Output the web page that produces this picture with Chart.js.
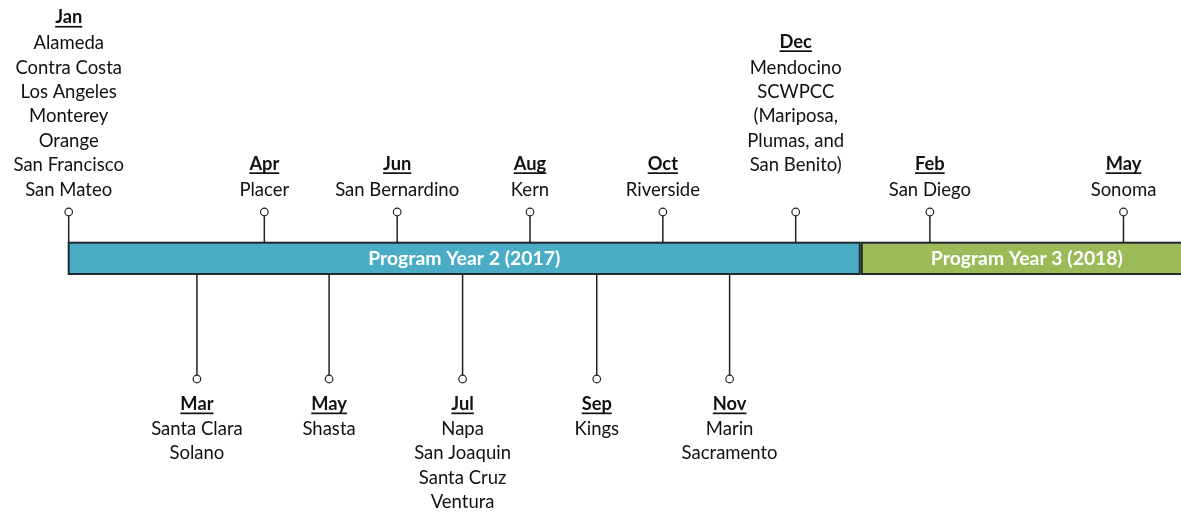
<!DOCTYPE html>
<html>
<head>
<meta charset="utf-8">
<script src="https://cdn.jsdelivr.net/npm/chart.js@4"></script>
<style>
  html, body { margin: 0; padding: 0; background: #fff; }
  #wrap { width: 1181px; height: 513px; }
</style>
</head>
<body>
<div id="wrap"><canvas id="c" width="1181" height="513"></canvas></div>
<script>
// ---- data ----
const eventMonths = ['Jan', 'Mar', 'Apr', 'May', 'Jun', 'Jul', 'Aug', 'Sep', 'Oct', 'Nov', 'Dec', 'Feb', 'May'];
// position along the timeline, in months since Jan 2017
const eventIndex = [0, 1.94, 2.96, 3.94, 4.97, 5.96, 6.98, 7.99, 8.99, 10, 11, 13.03, 15.96];
const eventSide = ['up', 'down', 'up', 'down', 'up', 'down', 'up', 'down', 'up', 'down', 'up', 'up', 'up'];
const eventCounties = [
  ['Alameda', 'Contra Costa', 'Los Angeles', 'Monterey', 'Orange', 'San Francisco', 'San Mateo'],
  ['Santa Clara', 'Solano'],
  ['Placer'],
  ['Shasta'],
  ['San Bernardino'],
  ['Napa', 'San Joaquin', 'Santa Cruz', 'Ventura'],
  ['Kern'],
  ['Kings'],
  ['Riverside'],
  ['Marin', 'Sacramento'],
  ['Mendocino', 'SCWPCC', '(Mariposa,', 'Plumas, and', 'San Benito)', ''],
  ['San Diego'],
  ['Sonoma']
];
const periodLabels = ['Program Year 2 (2017)', 'Program Year 3 (2018)'];
const periodStart = [0, 12];
const periodEnd = [11.97, 24];
const periodColors = ['#4BACC6', '#9BBB59'];

// ---- layout constants (style) ----
const BAR_TOP = 15.3, BAR_BOTTOM = -16, UP_TIP = 46, DOWN_TIP = -121;
const FONT = 'Lato, "Open Sans", sans-serif';
const LINE_H = 24.4;
const MONTH_PX = 66.09, ORIGIN_PX = 68.7;

const stemData = [];
eventIndex.forEach((m, i) => {
  if (eventSide[i] === 'up') {
    stemData.push({x: m, y: BAR_TOP}, {x: m, y: UP_TIP});
  } else {
    stemData.push({x: m, y: BAR_BOTTOM}, {x: m, y: DOWN_TIP});
  }
  stemData.push({x: m, y: null});
});

const timelinePlugin = {
  id: 'timeline',
  beforeDatasetsDraw(chart) {
    const {ctx, scales: {x, y}, chartArea} = chart;
    ctx.save();
    const top = y.getPixelForValue(BAR_TOP), bot = y.getPixelForValue(BAR_BOTTOM);
    periodLabels.forEach((lab, i) => {
      const x0 = x.getPixelForValue(periodStart[i]);
      const x1 = x.getPixelForValue(periodEnd[i]);
      ctx.fillStyle = periodColors[i];
      ctx.fillRect(x0, top, x1 - x0, bot - top);
      ctx.strokeStyle = '#1f2a2e';
      ctx.lineWidth = 2;
      ctx.strokeRect(x0, top, x1 - x0, bot - top);
      const vx0 = Math.max(x0, chartArea.left), vx1 = Math.min(x1, chartArea.right);
      ctx.fillStyle = '#ffffff';
      ctx.font = 'bold 19.4px ' + FONT;
      ctx.textAlign = 'center';
      ctx.textBaseline = 'middle';
      ctx.fillText(lab, (vx0 + vx1) / 2 + (i > 0 ? 5.5 : 0), (top + bot) / 2);
    });
    ctx.restore();
  },
  afterDatasetsDraw(chart) {
    const {ctx, scales: {x, y}} = chart;
    ctx.save();
    ctx.textAlign = 'center';
    ctx.textBaseline = 'middle';
    ctx.fillStyle = '#111111';
    eventIndex.forEach((m, i) => {
      const px = x.getPixelForValue(m);
      const lines = [eventMonths[i]].concat(eventCounties[i]);
      const up = eventSide[i] === 'up';
      let firstY;
      if (up) {
        const lastY = y.getPixelForValue(UP_TIP) - 22.3;
        firstY = lastY - (lines.length - 1) * LINE_H;
      } else {
        firstY = y.getPixelForValue(DOWN_TIP) + 25;
      }
      lines.forEach((t, k) => {
        let ly = firstY + k * LINE_H;
        if (k === 0) {
          if (up) ly -= 1.5;
          ctx.font = 'bold 18.3px ' + FONT;
          ctx.fillText(t, px, ly);
          const w = ctx.measureText(t).width;
          ctx.fillRect(px - w / 2, ly + 8.5, w, 1.7);
        } else {
          if (!up) ly += 0.7;
          ctx.font = '18.5px ' + FONT;
          ctx.fillText(t, px, ly);
        }
      });
    });
    ctx.restore();
  }
};

new Chart(document.getElementById('c'), {
  type: 'scatter',
  data: {
    datasets: [{
      data: stemData,
      showLine: true,
      spanGaps: false,
      borderColor: '#222222',
      borderWidth: 1.5,
      pointRadius: ctx => (ctx.dataIndex % 3 === 1 ? 3.8 : 0),
      pointBackgroundColor: '#ffffff',
      pointBorderColor: '#222222',
      pointBorderWidth: 1.2
    }]
  },
  options: {
    responsive: false,
    animation: false,
    layout: { padding: 0 },
    scales: {
      x: { type: 'linear', display: false, min: -ORIGIN_PX / MONTH_PX, max: (1181 - ORIGIN_PX) / MONTH_PX },
      y: { type: 'linear', display: false, min: -255, max: 258 }
    },
    plugins: { legend: { display: false }, tooltip: { enabled: false } }
  },
  plugins: [timelinePlugin]
});
</script>
</body>
</html>
